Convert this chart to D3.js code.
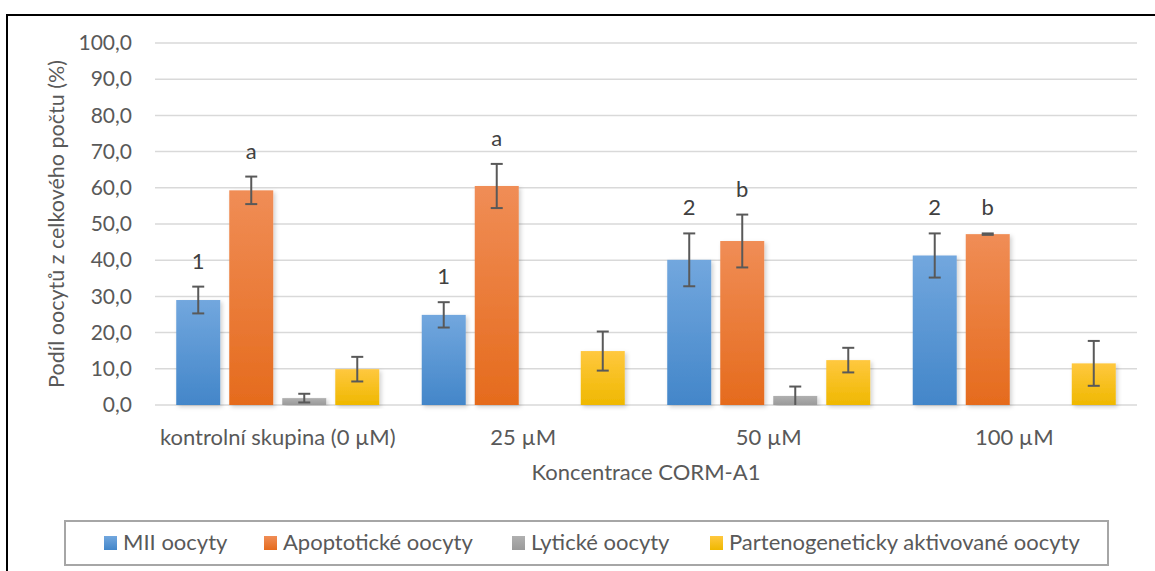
<!DOCTYPE html>
<html>
<head>
<meta charset="utf-8">
<script src="https://cdn.jsdelivr.net/npm/d3@7"></script>
<style>
  html, body { margin: 0; padding: 0; background: #fff; }
  svg { display: block; font-family: Lato, "Open Sans", sans-serif; }
</style>
</head>
<body>
<svg id="chart" width="1155" height="571"></svg>
<script>
// Concentration groups on the x axis
const categories = ["kontrolní skupina (0 µM)", "25 µM", "50 µM", "100 µM"];

// Series names (legend order)
const seriesNames = ["MII oocyty", "Apoptotické oocyty", "Lytické oocyty", "Partenogeneticky aktivované oocyty"];

// Mean share of oocytes (%) and error (±) per group
const miiValues   = [29.0, 24.9, 40.1, 41.3];
const miiErrors   = [3.7, 3.5, 7.3, 6.1];
const apoValues   = [59.3, 60.5, 45.3, 47.2];
const apoErrors   = [3.8, 6.1, 7.3, 0.2];
const lytValues   = [1.9, 0, 2.5, 0];
const lytErrors   = [1.2, 0, 2.6, 0];
const partValues  = [9.9, 14.9, 12.4, 11.5];
const partErrors  = [3.4, 5.4, 3.4, 6.2];

// Significance letters above bars
const miiLabels = ["1", "1", "2", "2"];
const apoLabels = ["a", "a", "b", "b"];

// Y axis ticks
const yTicks = [0, 10, 20, 30, 40, 50, 60, 70, 80, 90, 100];

const seriesValues = [miiValues, apoValues, lytValues, partValues];
const seriesErrors = [miiErrors, apoErrors, lytErrors, partErrors];
const seriesLabels = [miiLabels, apoLabels, null, null];
const gradients = [
  ["#72a7de", "#4386c9"],
  ["#f08d56", "#e56b1d"],
  ["#b0b0b0", "#9a9a9a"],
  ["#ffc83f", "#efb800"]
];

const svg = d3.select("#chart");
const margin = { left: 155, right: 18, top: 43, bottom: 166 };
const width = 1155, height = 571;
const plotW = width - margin.left - margin.right;
const plotH = height - margin.top - margin.bottom;

const defs = svg.append("defs");
gradients.forEach((g, i) => {
  const lg = defs.append("linearGradient")
    .attr("id", "grad" + i).attr("x1", 0).attr("y1", 0).attr("x2", 0).attr("y2", 1);
  lg.append("stop").attr("offset", "0%").attr("stop-color", g[0]);
  lg.append("stop").attr("offset", "100%").attr("stop-color", g[1]);
});
const shadow = defs.append("filter").attr("id", "shadow")
  .attr("x", "-20%").attr("y", "-5%").attr("width", "150%").attr("height", "115%");
shadow.append("feDropShadow").attr("dx", 2).attr("dy", 2).attr("stdDeviation", 2)
  .attr("flood-color", "#000").attr("flood-opacity", 0.18);

// Outer chart border
svg.append("rect")
  .attr("x", 7).attr("y", 15).attr("width", 1160).attr("height", 570)
  .attr("fill", "none").attr("stroke", "#000").attr("stroke-width", 2);

const g = svg.append("g").attr("transform", `translate(${margin.left},${margin.top})`);

const y = d3.scaleLinear().domain([0, 100]).range([plotH, 0]);
const x0 = d3.scaleBand().domain(categories).range([0, plotW])
  .paddingInner(0.173).paddingOuter(0.0865);
const x1 = d3.scaleBand().domain(d3.range(seriesNames.length)).range([0, x0.bandwidth()])
  .paddingInner(0.17).paddingOuter(0);

// Grid lines
g.append("g").selectAll("line").data(yTicks).join("line")
  .attr("x1", 0).attr("x2", plotW)
  .attr("y1", d => y(d)).attr("y2", d => y(d))
  .attr("stroke", "#d9d9d9").attr("stroke-width", 1.5);

// Y axis labels
const yAxis = d3.axisLeft(y).tickValues(yTicks)
  .tickFormat(d => d3.format(".1f")(d).replace(".", ","))
  .tickSize(0).tickPadding(23);
const ya = g.append("g").call(yAxis);
ya.select(".domain").remove();
ya.selectAll("text").attr("font-size", 21).attr("fill", "#595959")
  .attr("font-family", "Lato, sans-serif");

// X axis labels
const xAxis = d3.axisBottom(x0).tickSize(0).tickPadding(24);
const xa = g.append("g").attr("transform", `translate(0,${plotH})`).call(xAxis);
xa.select(".domain").remove();
xa.selectAll("text").attr("font-size", 22).attr("fill", "#595959")
  .attr("font-family", "Lato, sans-serif");

// Axis titles
svg.append("text")
  .attr("transform", `translate(64,${margin.top + plotH / 2}) rotate(-90)`)
  .attr("text-anchor", "middle").attr("font-size", 21.5).attr("fill", "#595959")
  .text("Podíl oocytů z celkového počtu (%)");
svg.append("text")
  .attr("x", margin.left + plotW / 2).attr("y", 480)
  .attr("text-anchor", "middle").attr("font-size", 22).attr("fill", "#595959")
  .text("Koncentrace CORM-A1");

// Bars, error bars and labels
seriesNames.forEach((name, s) => {
  const grp = g.append("g");
  categories.forEach((cat, c) => {
    const v = seriesValues[s][c];
    const e = seriesErrors[s][c];
    const bx = x0(cat) + x1(s);
    const bw = x1.bandwidth();
    const cx = bx + bw / 2;
    if (v > 0) {
      grp.append("rect")
        .attr("x", bx).attr("y", y(v))
        .attr("width", bw).attr("height", y(0) - y(v))
        .attr("fill", `url(#grad${s})`).attr("filter", "url(#shadow)");
    }
    if (v > 0 && e > 0) {
      const hi = v + e;
      const lo = Math.max(0, v - e);
      const cap = 6;
      grp.append("line").attr("x1", cx).attr("x2", cx)
        .attr("y1", y(hi)).attr("y2", y(lo))
        .attr("stroke", "#595959").attr("stroke-width", 2);
      grp.append("line").attr("x1", cx - cap).attr("x2", cx + cap)
        .attr("y1", y(hi)).attr("y2", y(hi))
        .attr("stroke", "#595959").attr("stroke-width", 2);
      if (v - e > 0) {
        grp.append("line").attr("x1", cx - cap).attr("x2", cx + cap)
          .attr("y1", y(lo)).attr("y2", y(lo))
          .attr("stroke", "#595959").attr("stroke-width", 2);
      }
    }
    const labels = seriesLabels[s];
    if (labels) {
      grp.append("text")
        .attr("x", cx).attr("y", y(v + e) - 18)
        .attr("text-anchor", "middle").attr("font-size", 22).attr("fill", "#404040")
        .text(labels[c]);
    }
  });
});

// Legend
const legend = svg.append("g");
legend.append("rect")
  .attr("x", 65).attr("y", 521).attr("width", 1043).attr("height", 44)
  .attr("fill", "#fff").attr("stroke", "#a6a6a6").attr("stroke-width", 2);
const legendX = [104, 264, 512, 710];
seriesNames.forEach((name, s) => {
  const it = legend.append("g").attr("transform", `translate(${legendX[s]},536)`);
  it.append("rect").attr("width", 13).attr("height", 14).attr("fill", `url(#grad${s})`);
  it.append("text").attr("x", 19).attr("y", 14)
    .attr("font-size", 22).attr("fill", "#595959").text(name);
});
</script>
</body>
</html>
